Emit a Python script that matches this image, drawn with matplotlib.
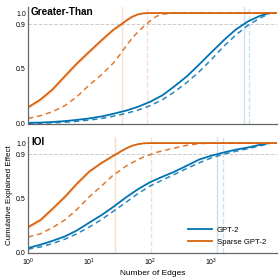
import numpy as np
import matplotlib
matplotlib.use("Agg")
import matplotlib.pyplot as plt

plt.rcParams['font.family'] = ['Liberation Sans', 'DejaVu Sans']

# x grids (number of edges) at which values were read
edges_gpt2 = [1, 1.6, 2.5, 4, 6.3, 10, 16, 25, 40, 63, 100, 160, 250, 400, 630,
              1000, 1600, 2500, 4000, 6300, 9000]
edges_sparse = [1, 1.6, 2.5, 4, 6.3, 10, 16, 25, 32, 40, 50, 63, 79, 100, 126,
                160, 250, 400, 630, 1000, 12000]

# Greater-Than
gt_gpt2 = [0.01, 0.013, 0.018, 0.026, 0.037, 0.05, 0.068, 0.092, 0.12, 0.155, 0.2,
           0.26, 0.34, 0.43, 0.535, 0.645, 0.755, 0.85, 0.925, 0.975, 1.0]
gt_gpt2_dash = [0.005, 0.007, 0.01, 0.016, 0.024, 0.035, 0.05, 0.07, 0.095, 0.125, 0.165,
                0.22, 0.29, 0.375, 0.47, 0.58, 0.7, 0.8, 0.89, 0.955, 0.995]
gt_sparse = [0.15, 0.22, 0.31, 0.43, 0.545, 0.65, 0.755, 0.85, 0.89, 0.93, 0.965,
             0.988, 0.998, 1.0, 1.0, 1.0, 1.0, 1.0, 1.0, 1.0, 1.0]
gt_sparse_dash = [0.05, 0.075, 0.11, 0.165, 0.245, 0.35, 0.445, 0.55, 0.625, 0.7, 0.77,
                  0.83, 0.88, 0.93, 0.97, 0.99, 1.0, 1.0, 1.0, 1.0, 1.0]
gt_sparse_std = [0.015, 0.02, 0.02, 0.02, 0.02, 0.02, 0.02, 0.015, 0.012, 0.01, 0.006,
                 0.003, 0.001, 0, 0, 0, 0, 0, 0, 0, 0]

# IOI
ioi_gpt2 = [0.045, 0.075, 0.11, 0.15, 0.205, 0.275, 0.345, 0.42, 0.505, 0.58, 0.645,
            0.695, 0.74, 0.795, 0.85, 0.885, 0.915, 0.94, 0.96, 0.985, 1.0]
ioi_gpt2_dash = [0.035, 0.055, 0.085, 0.125, 0.175, 0.235, 0.305, 0.38, 0.46, 0.54, 0.61,
                 0.665, 0.715, 0.77, 0.82, 0.865, 0.9, 0.925, 0.95, 0.975, 0.995]
ioi_sparse = [0.235, 0.30, 0.40, 0.51, 0.63, 0.74, 0.82, 0.885, 0.92, 0.95, 0.975,
              0.99, 0.998, 1.0, 1.0, 1.0, 1.0, 1.0, 1.0, 1.0, 1.0]
ioi_sparse_dash = [0.145, 0.175, 0.23, 0.30, 0.395, 0.51, 0.61, 0.71, 0.75, 0.79, 0.82,
                   0.85, 0.875, 0.895, 0.915, 0.93, 0.955, 0.98, 0.995, 1.0, 1.0]
ioi_sparse_std = [0.02, 0.02, 0.02, 0.02, 0.02, 0.015, 0.012, 0.008, 0.006, 0.004, 0.002,
                  0.001, 0, 0, 0, 0, 0, 0, 0, 0, 0]

# edges needed to reach 0.9 (gpt2 solid, gpt2 dashed, sparse solid, sparse dashed)
gt_thresh = [3470, 4070, 35, 89]
ioi_thresh = [1230, 1550, 27, 105]

blue = '#0173b2'
orange = '#d9620c'
dash = (0, (3.5, 2.5))

fig = plt.figure(figsize=(2.8, 2.78), dpi=100)
ax1 = fig.add_axes([0.1, 0.554, 0.89, 0.421])
ax2 = fig.add_axes([0.1, 0.09, 0.89, 0.417])

panels = [
    (ax1, 'Greater-Than', gt_gpt2, gt_gpt2_dash, gt_sparse, gt_sparse_dash, gt_sparse_std, gt_thresh),
    (ax2, 'IOI', ioi_gpt2, ioi_gpt2_dash, ioi_sparse, ioi_sparse_dash, ioi_sparse_std, ioi_thresh),
]

for ax, title, g, gd, s, sd, sstd, th in panels:
    ax.axhline(0.9, color='#cccccc', lw=0.7, ls='--', zorder=0)
    ax.axvline(th[0], color=blue, lw=1.0, alpha=0.2, zorder=0)
    ax.axvline(th[1], color=blue, lw=1.0, ls='--', alpha=0.2, zorder=0)
    ax.axvline(th[2], color=orange, lw=1.0, alpha=0.2, zorder=0)
    ax.axvline(th[3], color=orange, lw=1.0, ls='--', alpha=0.2, zorder=0)

    s_arr = np.array(s)
    std = np.array(sstd)
    ax.fill_between(edges_sparse, s_arr - std, np.minimum(s_arr + std, 1.0),
                    color=orange, alpha=0.15, lw=0)
    ax.plot(edges_gpt2, g, color=blue, lw=1.3, label='GPT-2')
    ax.plot(edges_gpt2, gd, color=blue, lw=1.1, ls=dash, alpha=0.85)
    ax.plot(edges_sparse, s, color=orange, lw=1.3, label='Sparse GPT-2')
    ax.plot(edges_sparse, sd, color=orange, lw=1.1, ls=dash, alpha=0.85)

    ax.set_xscale('log')
    ax.set_xlim(1, 12000)
    ax.set_ylim(0, 1.055)
    ax.set_yticks([0.0, 0.5, 0.9, 1.0])
    ax.set_yticklabels(['0.0', '0.5', '0.9', '1.0'])
    ax.set_xticks([1, 10, 100, 1000])
    ax.minorticks_off()
    ax.tick_params(labelsize=5, length=0, pad=1.5)
    ax.tick_params(axis='x', pad=2.5)
    for sp in ['top', 'right']:
        ax.spines[sp].set_visible(False)
    for sp in ['left', 'bottom']:
        ax.spines[sp].set_color('#666666')
        ax.spines[sp].set_linewidth(0.9)
    ax.text(0.012, 1.0, title, transform=ax.transAxes, fontsize=7.2,
            fontweight='bold', ha='left', va='top')

ax1.set_xticklabels([])
ax2.set_ylabel('Cumulative Explained Effect', fontsize=5.8, labelpad=2)
ax2.set_xlabel('Number of Edges', fontsize=6, labelpad=1.5)
ax2.legend(loc='lower right', fontsize=5.6, frameon=False, handlelength=3.2,
           handletextpad=0.6, bbox_to_anchor=(0.985, 0.0), labelspacing=0.6)

fig.savefig('out.png', dpi=100)
